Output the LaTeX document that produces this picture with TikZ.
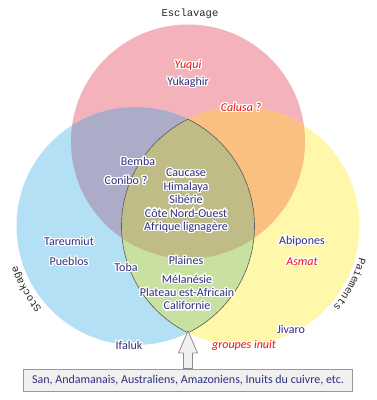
\documentclass[tikz,border=0pt]{standalone}
\usepackage{fontspec}
\setmainfont{Carlito}
\newfontfamily\monofam{Liberation Mono}
\usepackage[copies]{contour}
\contourlength{1.3pt}
\contournumber{20}
\usetikzlibrary{calc,decorations.text}

\definecolor{pinkc}{HTML}{F4B2BA}
\definecolor{bluec}{HTML}{B3E0F5}
\definecolor{yellowc}{HTML}{FFF7AA}
\definecolor{purplec}{HTML}{ACACC8}
\definecolor{orangec}{HTML}{FAC080}
\definecolor{greenc}{HTML}{C8E1A0}
\definecolor{olivec}{HTML}{C0BC88}
\definecolor{labelblue}{HTML}{30307F}
\definecolor{labelred}{HTML}{F01010}
\definecolor{boxgray}{HTML}{F0F0F0}

\newcommand{\lblfont}{\fontsize{12}{13.4}\selectfont}
\newcommand{\titlefont}{\monofam\fontsize{10.5}{12}\selectfont}
\newcommand{\glow}[1]{\contour{white}{#1}}

\begin{document}
\begin{tikzpicture}[x=1pt, y=1pt,
    lbl/.style={font=\lblfont, text=labelblue, inner sep=1pt, align=center},
    lblred/.style={font=\lblfont\itshape, text=labelred, inner sep=1pt},
    title/.style={font=\titlefont, text=black!85},
    lens/.style={draw=black!65, line width=0.6pt},
    otherbox/.style={draw=black!40, fill=boxgray, line width=0.8pt, minimum width=329pt, minimum height=22pt, font=\lblfont, text=labelblue},
    blockarrow/.style={draw=black!45, fill=boxgray, line width=0.8pt, line join=miter}
]
\useasboundingbox (0,0) rectangle (377,400);

% the three sets
\coordinate (P) at (188,258.5);
\coordinate (B) at (135.5,174);
\coordinate (Y) at (240.5,174);
\def\rP{117}
\def\rB{119}

\fill[pinkc] (P) circle[radius=\rP];
\fill[bluec] (B) circle[radius=\rB];
\fill[yellowc] (Y) circle[radius=\rB];
\begin{scope}
  \clip (B) circle[radius=\rB];
  \fill[greenc] (Y) circle[radius=\rB];
\end{scope}
\begin{scope}
  \clip (P) circle[radius=\rP];
  \fill[purplec] (B) circle[radius=\rB];
  \fill[orangec] (Y) circle[radius=\rB];
  \clip (B) circle[radius=\rB];
  \fill[olivec] (Y) circle[radius=\rB];
\end{scope}

% outline of stockage and paiements together
\begin{scope}
  \clip (B) circle[radius=\rB];
  \draw[lens] (Y) circle[radius=\rB];
\end{scope}
\begin{scope}
  \clip (Y) circle[radius=\rB];
  \draw[lens] (B) circle[radius=\rB];
\end{scope}

% titles
\node[title] (esclavage) at (190,386) {Esclavage};
\path[decorate, decoration={text along path, text align=center,
    text={|\titlefont\color{black!85}|Stockage}}]
  ($(B)+(228:125)$) arc[start angle=228, end angle=192, radius=125];
\path[decorate, decoration={text along path, text align=center,
    text={|\titlefont\color{black!85}|Paiements}}]
  ($(Y)+(-10:123)$) arc[start angle=-10, end angle=-46, radius=123];

% labels
\node[lblred] (yuqui) at (188,334) {\glow{Yuqui}};
\node[lbl] (yukaghir) at (188,317) {\glow{Yukaghir}};
\node[lblred] (calusa) at (241,292) {\glow{Calusa ?}};
\node[lbl] (bemba) at (138,238) {\glow{Bemba}};
\node[lbl] (conibo) at (126,219) {\glow{Conibo ?}};
\node[lbl] (core) at (186,198.5) {\glow{Caucase}\\\glow{Himalaya}\\\glow{Sibérie}\\\glow{Côte Nord-Ouest}\\\glow{Afrique lignagère}};
\node[lbl] (tareumiut) at (69,158) {\glow{Tareumiut}};
\node[lbl] (pueblos) at (69,138) {\glow{Pueblos}};
\node[lbl] (toba) at (126,132) {\glow{Toba}};
\node[lbl] (plaines) at (186,139) {\glow{Plaines}};
\node[lbl] (lower) at (187,107) {\glow{Mélanésie}\\\glow{Plateau est-Africain}\\\glow{Californie}};
\node[lbl] (abipones) at (302,158) {\glow{Abipones}};
\node[lblred] (asmat) at (302,138) {\glow{Asmat}};
\node[lbl] (jivaro) at (291,70) {\glow{Jivaro}};
\node[lbl] (ifaluk) at (129,54) {\glow{Ifaluk}};
\node[lblred] (inuit) at (244,54) {\glow{groupes inuit}};

% box of the others and its arrow
\node[otherbox] (others) at (188,20) {San, Andamanais, Australiens, Amazoniens, Inuits du cuivre, etc.};
\coordinate (tip) at (188,69);
\draw[blockarrow] (tip) -- ($(tip)+(-9.5,-22)$) -- ($(tip)+(-4.5,-22)$)
  -- ($(others.north)+(-4.5,0)$) -- ($(others.north)+(4.5,0)$)
  -- ($(tip)+(4.5,-22)$) -- ($(tip)+(9.5,-22)$) -- cycle;
\end{tikzpicture}
\end{document}
